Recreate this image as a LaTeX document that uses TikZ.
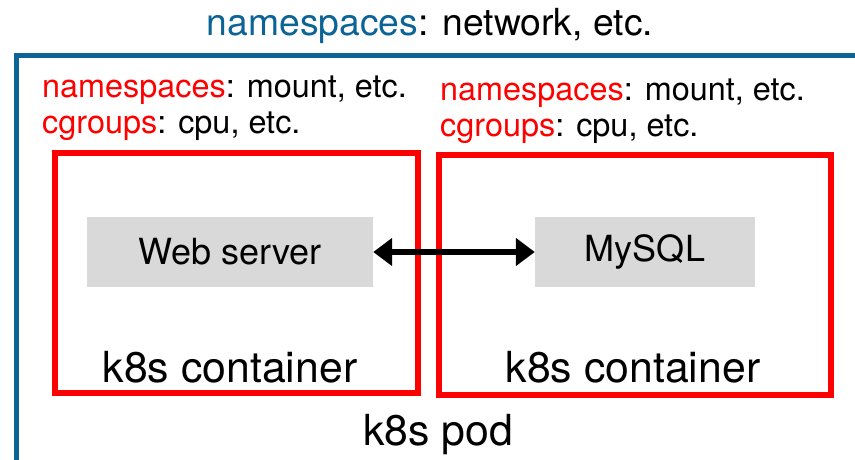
\documentclass[tikz,border=0pt]{standalone}
\usepackage{fontspec}
\setmainfont{TeX Gyre Heros}
\usetikzlibrary{arrows.meta}
\definecolor{podblue}{RGB}{12,100,150}

\begin{document}
\begin{tikzpicture}[x=1pt,y=-1pt,>={Triangle[length=19pt,width=27pt]}]
        \tikzset{
          cbox/.style={draw=red,line width=6pt,inner sep=0pt,minimum height=240pt},
          app/.style={fill=black!15,inner sep=0pt,minimum height=70pt,font=\fontsize{36}{40}\selectfont},
          nslabel/.style={anchor=base west,inner sep=0pt,font=\fontsize{32.4}{36}\selectfont},
          bigtxt/.style={anchor=base,inner sep=0pt,font=\fontsize{42.8}{48}\selectfont}
        }
        \useasboundingbox (0,0) rectangle (855,459);
        \clip (0,0) rectangle (855,459);
        % pod
        \draw[podblue,line width=5pt] (16,480) -- (16,55) -- (880,55);
        \node[anchor=base,inner sep=0pt,font=\fontsize{37.3}{40}\selectfont] (netns)
              at (430,35) {\textcolor{podblue}{namespaces}: network, etc.};
        \node[bigtxt] (pod) at (438,445) {k8s pod};
        % containers
        \node[cbox,minimum width=363.5pt] (webbox) at (236.25,272.75) {};
        \node[cbox,minimum width=392pt] (sqlbox) at (635,274.5) {};
        \node[bigtxt] (webname) at (230,382) {k8s container};
        \node[bigtxt] (sqlname) at (633,382) {k8s container};
        \foreach \n/\x/\y in {web/42/97,sql/440/100} {
          \node[nslabel] (\n ns) at (\x,\y) {\textcolor{red}{namespaces}: mount, etc.};
          \node[nslabel] (\n cg) at (\x,\y+36) {\textcolor{red}{cgroups}: cpu, etc.};
        }
        % apps
        \node[app,minimum width=286pt] (web) at (230,252) {Web server};
        \node[app,minimum width=220pt] (sql) at (645,252) {MySQL};
        \draw[<->,line width=5.5pt] (web) -- (sql);
\end{tikzpicture}
\end{document}
